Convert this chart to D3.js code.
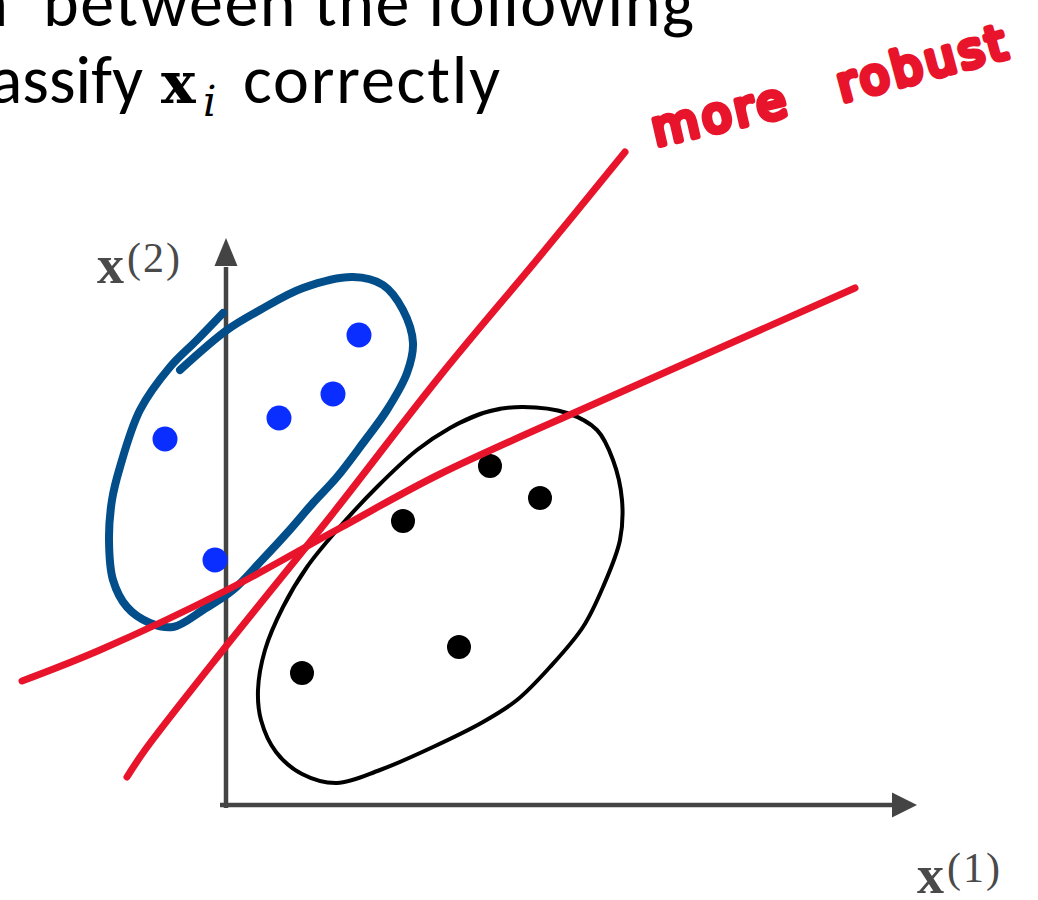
<!DOCTYPE html>
<html>
<head>
<meta charset="utf-8">
<script src="https://cdn.jsdelivr.net/npm/d3@7"></script>
<style>
  html, body { margin: 0; padding: 0; background: #fff; overflow: hidden; }
</style>
</head>
<body>
<svg id="chart" width="1038" height="900"></svg>
<script>
// Two classes of training points in feature space (x1, x2)
const bluePoints  = [[-6.1, 36.6], [5.3, 38.7], [10.7, 41.1], [13.3, 47.0], [-1.1, 24.5]];
const blackPoints = [[26.4, 33.9], [31.4, 30.7], [17.7, 28.4], [23.3, 15.8], [7.6, 13.2]];

// Two hand-drawn candidate separating lines
const boundarySteep = [[-9.9, 2.8], [-8.1, 5.5], [0.1, 16.0], [10.4, 28.8], [21.4, 42.9], [31.4, 54.9], [39.9, 65.3]];
const boundaryShallow = [[-20.4, 12.4], [-12.6, 15.5], [0.1, 21.5], [11.4, 27.7], [21.4, 33.1], [37.7, 40.5], [62.9, 51.7]];

// Hand-drawn loops around each class
const blueLoop = [[-4.6, 43.5], [0.1, 47.5], [3.4, 49.5], [7.7, 51.7], [12.7, 52.8], [15.7, 52.0], [17.7, 49.5],
                  [18.7, 46.2], [18.1, 43.2], [16.1, 39.5], [13.7, 36.2], [11.1, 32.8], [8.7, 30.2], [6.1, 27.2],
                  [3.6, 24.5], [0.7, 21.5], [-2.3, 19.5], [-5.3, 17.8], [-7.6, 18.2], [-9.9, 19.8], [-11.3, 22.5],
                  [-11.7, 26.5], [-11.4, 30.5], [-10.6, 33.8], [-8.6, 39.5], [-5.6, 43.8], [-2.9, 46.5], [-0.3, 49.2]];
const blackLoop = [[23.6, 38.3], [26.4, 39.4], [29.7, 39.8], [34.1, 39.2], [37.1, 37.5], [38.7, 34.5], [39.6, 30.5],
                   [39.4, 26.5], [37.7, 21.8], [35.7, 17.8], [32.4, 13.8], [29.1, 10.5], [25.7, 8.3], [20.7, 5.8],
                   [15.4, 3.5], [11.1, 2.2], [7.6, 3.1], [5.0, 5.3], [3.5, 8.5], [3.2, 11.5], [3.9, 15.5],
                   [5.7, 19.8], [8.1, 23.8], [11.1, 27.5], [15.1, 31.8], [19.1, 35.5], [22.4, 37.7], [25.4, 39.1], [27.4, 39.6]];

// Slide text
const headingLine1 = ["n", "between the following"];
const headingLine2 = ["assify", "x", "i", "correctly"];
const axisLabelX = ["x", "(1)"];
const axisLabelY = ["x", "(2)"];
const annotation = ["more", "robust"];

const svg = d3.select("#chart");
const x = d3.scaleLinear().domain([0, 69]).range([226, 916]);
const y = d3.scaleLinear().domain([0, 56.5]).range([805, 240]);

const AXIS = "#444";
const RED = "#e8142b";

// Heading text
const sans = "Carlito, Calibri, Lato, 'Open Sans', sans-serif";
svg.append("text").attr("x", 8).attr("y", 26).attr("text-anchor", "end")
  .attr("font-family", sans).attr("font-size", 68).attr("fill", "#000").text(headingLine1[0]);
svg.append("text").attr("x", 43).attr("y", 26).attr("textLength", 651).attr("lengthAdjust", "spacing")
  .attr("font-family", sans).attr("font-size", 68).attr("fill", "#000").text(headingLine1[1]);

svg.append("text").attr("x", 143).attr("y", 103).attr("text-anchor", "end")
  .attr("font-family", sans).attr("font-size", 68).attr("fill", "#000").text(headingLine2[0]);
svg.append("text").attr("x", 161).attr("y", 103)
  .attr("font-family", "'DejaVu Serif', serif").attr("font-weight", "bold").attr("font-size", 58)
  .attr("fill", "#000").text(headingLine2[1]);
svg.append("text").attr("x", 203).attr("y", 116)
  .attr("font-family", "'DejaVu Serif', serif").attr("font-style", "italic").attr("font-size", 42)
  .attr("fill", "#000").text(headingLine2[2]);
svg.append("text").attr("x", 243).attr("y", 103).attr("textLength", 257).attr("lengthAdjust", "spacing")
  .attr("font-family", sans).attr("font-size", 68).attr("fill", "#000").text(headingLine2[3]);

// Axes with arrow heads
svg.append("line")
  .attr("x1", x(-0.6)).attr("x2", x(66.8)).attr("y1", y(0)).attr("y2", y(0))
  .attr("stroke", AXIS).attr("stroke-width", 4.5);
svg.append("line")
  .attr("x1", x(0)).attr("x2", x(0)).attr("y1", y(-0.3)).attr("y2", y(53.8))
  .attr("stroke", AXIS).attr("stroke-width", 4.5);
svg.append("path")
  .attr("d", `M${x(66.6)},${y(0) - 12.5}L${x(69.1)},${y(0)}L${x(66.6)},${y(0) + 12.5}Z`)
  .attr("fill", AXIS);
svg.append("path")
  .attr("d", `M${x(0) - 11.5},${y(53.9)}L${x(0)},${y(56.7)}L${x(0) + 11.5},${y(53.9)}Z`)
  .attr("fill", AXIS);

// Axis labels
const serif = "'Liberation Serif', 'DejaVu Serif', serif";
function axisLabel(parts, px, py) {
  const t = svg.append("text").attr("x", px).attr("y", py).attr("fill", "#4a4a4a").attr("font-family", serif);
  t.append("tspan").attr("font-weight", "bold").attr("font-size", 54).text(parts[0]);
  t.append("tspan").attr("dx", 3).attr("dy", -11).attr("font-size", 42).attr("letter-spacing", 2).text(parts[1]);
}
axisLabel(axisLabelY, 97, 283);
axisLabel(axisLabelX, 917, 893);

// Training points
svg.append("g").selectAll("circle").data(blackPoints).join("circle")
  .attr("cx", d => x(d[0])).attr("cy", d => y(d[1])).attr("r", 12).attr("fill", "#000");
svg.append("g").selectAll("circle").data(bluePoints).join("circle")
  .attr("cx", d => x(d[0])).attr("cy", d => y(d[1])).attr("r", 12.5).attr("fill", "#0a2eff");

const ink = d3.line().x(d => x(d[0])).y(d => y(d[1])).curve(d3.curveCatmullRom.alpha(0.5));

// Class loops
svg.append("path").attr("d", ink(blackLoop))
  .attr("fill", "none").attr("stroke", "#000").attr("stroke-width", 4)
  .attr("stroke-linecap", "round").attr("stroke-linejoin", "round");
svg.append("path").attr("d", ink(blueLoop))
  .attr("fill", "none").attr("stroke", "#024e8a").attr("stroke-width", 8)
  .attr("stroke-linecap", "round").attr("stroke-linejoin", "round");

// Candidate boundaries
[boundarySteep, boundaryShallow].forEach(pts => {
  svg.append("path").attr("d", ink(pts))
    .attr("fill", "none").attr("stroke", RED).attr("stroke-width", 7)
    .attr("stroke-linecap", "round").attr("stroke-linejoin", "round");
});

// Handwritten note in marker strokes
const note = svg.append("g")
  .attr("font-family", "'DejaVu Sans', sans-serif").attr("font-size", 48).attr("letter-spacing", 4)
  .attr("fill", RED).attr("stroke", RED).attr("stroke-width", 6)
  .attr("stroke-linejoin", "round").attr("stroke-linecap", "round");
note.append("text").attr("transform", "translate(656,146) rotate(-13)").text(annotation[0]);
note.append("text").attr("transform", "translate(842,102) rotate(-15)").text(annotation[1]);
</script>
</body>
</html>
